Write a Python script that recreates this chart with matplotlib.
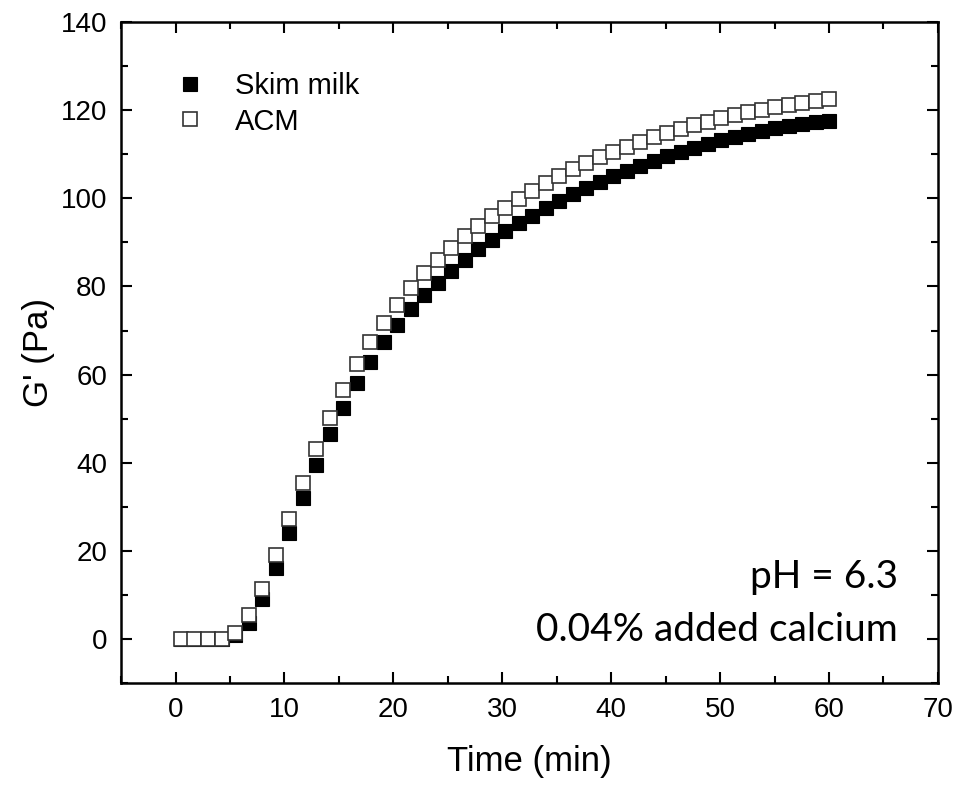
import numpy as np
import matplotlib
matplotlib.use("Agg")
import matplotlib.pyplot as plt
from matplotlib.ticker import MultipleLocator

# ── Data ──────────────────────────────────────────────────────────────────────
time_min = [0.5, 1.74, 2.98, 4.22, 5.46, 6.7, 7.94, 9.18, 10.42, 11.66,
            12.9, 14.14, 15.38, 16.62, 17.86, 19.1, 20.34, 21.58, 22.82, 24.06,
            25.3, 26.54, 27.78, 29.02, 30.26, 31.5, 32.74, 33.98, 35.22, 36.46,
            37.7, 38.94, 40.18, 41.42, 42.66, 43.9, 45.14, 46.38, 47.62, 48.86,
            50.1, 51.34, 52.58, 53.82, 55.06, 56.3, 57.54, 58.78, 60.02]

skim_milk = [0.0, 0.0, 0.0, 0.0, 0.9, 3.7, 9.1, 16.1, 24.1, 32.0,
             39.6, 46.5, 52.5, 58.0, 62.9, 67.3, 71.2, 74.8, 78.0, 80.9,
             83.6, 86.1, 88.4, 90.5, 92.6, 94.4, 96.1, 97.7, 99.3, 100.9,
             102.4, 103.8, 105.1, 106.3, 107.4, 108.5, 109.6, 110.6, 111.5, 112.4,
             113.2, 114.0, 114.7, 115.3, 115.9, 116.4, 116.9, 117.3, 117.6]

acm = [0.0, 0.0, 0.0, 0.0, 1.4, 5.4, 11.4, 19.0, 27.3, 35.4,
       43.2, 50.2, 56.6, 62.3, 67.3, 71.8, 75.9, 79.7, 83.0, 86.1,
       88.8, 91.4, 93.8, 95.9, 97.9, 99.8, 101.6, 103.4, 105.0, 106.6,
       108.0, 109.3, 110.6, 111.7, 112.8, 113.9, 114.9, 115.8, 116.6, 117.4,
       118.2, 118.9, 119.5, 120.1, 120.7, 121.2, 121.7, 122.1, 122.5]

annotation_lines = ["pH = 6.3", "0.04% added calcium"]

# ── Style ─────────────────────────────────────────────────────────────────────
plt.rcParams["font.family"] = ["Liberation Sans", "DejaVu Sans"]
TICK_FS = 20
LEGEND_FS = 21
LABEL_FS = 25
NOTE_FS = 28
MARKER_SIZE = 10

fig = plt.figure(figsize=(9.61, 7.87), dpi=100)
ax = fig.add_axes([0.126, 0.132, 0.850, 0.840])

ax.plot(time_min, skim_milk, linestyle="none", marker="s", markersize=MARKER_SIZE,
        markerfacecolor="black", markeredgecolor="black", markeredgewidth=0.8,
        label="Skim milk")
ax.plot(time_min, acm, linestyle="none", marker="s", markersize=MARKER_SIZE,
        markerfacecolor="white", markeredgecolor="#333333", markeredgewidth=1.2,
        label="ACM")

ax.set_xlim(-5, 70)
ax.set_ylim(-10, 140)
ax.xaxis.set_major_locator(MultipleLocator(10))
ax.xaxis.set_minor_locator(MultipleLocator(5))
ax.yaxis.set_major_locator(MultipleLocator(20))
ax.yaxis.set_minor_locator(MultipleLocator(10))

ax.tick_params(which="both", direction="in", top=True, right=True, width=1.5)
ax.tick_params(which="major", length=8, labelsize=TICK_FS, pad=10)
ax.tick_params(which="minor", length=5)
for sp in ax.spines.values():
    sp.set_linewidth(1.8)

ax.set_xlabel("Time (min)", fontsize=LABEL_FS, labelpad=16)
ax.set_ylabel("G' (Pa)", fontsize=LABEL_FS, labelpad=4)

ax.legend(loc="upper left", bbox_to_anchor=(0.066, 0.924), frameon=False,
          fontsize=LEGEND_FS, handletextpad=1.05, borderaxespad=0.0,
          borderpad=0.0, labelspacing=0.25, handlelength=1.0)

# two annotation lines, right aligned near the bottom right corner
ax.text(66.3, 11.6, annotation_lines[0], ha="right", va="baseline",
        fontsize=NOTE_FS, family=["Lato", "DejaVu Sans"])
ax.text(66.3, -0.45, annotation_lines[1], ha="right", va="baseline",
        fontsize=NOTE_FS, family=["Lato", "DejaVu Sans"])

fig.savefig("out.png", dpi=100)
